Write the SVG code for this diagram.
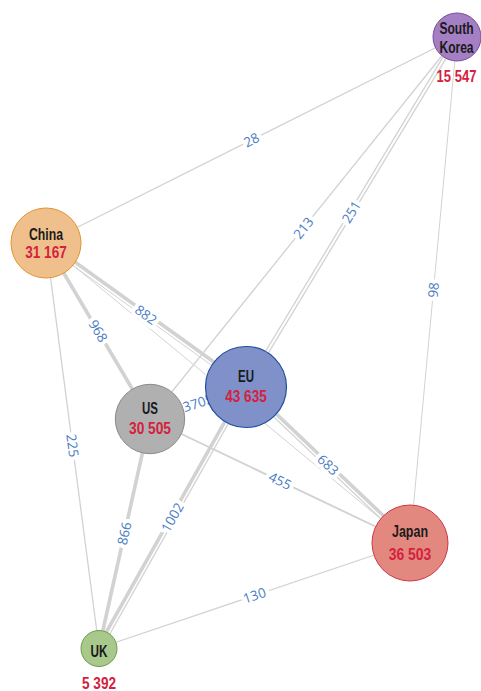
<svg xmlns="http://www.w3.org/2000/svg" width="481" height="691" viewBox="0 0 481 691">
<style>
.e{stroke:#d2d2d2;fill:none;stroke-linecap:butt}
.w1{stroke-width:1}
.w2{stroke-width:1.3}
.w3{stroke-width:1.9}
.w4{stroke-width:3.6}
.lb{font-family:"Open Sans","Noto Sans","DejaVu Sans",sans-serif;font-size:13.5px;fill:#4a7cc4;text-anchor:middle;stroke:#fff;stroke-width:8;stroke-linejoin:round;paint-order:stroke}
.nm{font-family:"Liberation Sans Narrow","Liberation Sans",Arial,sans-serif;font-weight:bold;font-size:16.5px;fill:#1a1a1a;text-anchor:middle}
.vl{font-family:"Liberation Sans Narrow","Liberation Sans",Arial,sans-serif;font-weight:bold;font-size:16.5px;fill:#d4213d;text-anchor:middle}
</style>
<rect width="481" height="691" fill="#fff"/>
<g id="connectors">
  <line class="e w2" x1="46" y1="243" x2="457" y2="37"/>
  <line class="e w4" x1="46.9" y1="241.8" x2="246.9" y2="385.8"/>
  <line class="e w1" x1="44.5" y1="245" x2="244.5" y2="389"/>
  <line class="e w4" x1="46" y1="243" x2="150" y2="419"/>
  <line class="e w2" x1="46" y1="243" x2="99" y2="648"/>
  <line class="e w1" x1="46" y1="243" x2="410" y2="543"/>
  <line class="e w2" x1="457" y1="37" x2="150" y2="419"/>
  <line class="e w2" x1="458.4" y1="37.8" x2="247.4" y2="387.8"/>
  <line class="e w2" x1="455.6" y1="36.2" x2="244.6" y2="386.2"/>
  <line class="e w1" x1="457" y1="37" x2="410" y2="543"/>
  <line class="e w4" x1="150" y1="419" x2="246" y2="387"/>
  <line class="e w3" x1="150" y1="419" x2="410" y2="543"/>
  <line class="e w4" x1="99" y1="648" x2="150" y2="419"/>
  <line class="e w4" x1="97.7" y1="647.3" x2="244.7" y2="386.3"/>
  <line class="e w2" x1="101.2" y1="649.2" x2="248.2" y2="388.2"/>
  <line class="e w4" x1="247" y1="386" x2="411" y2="542"/>
  <line class="e w2" x1="244.3" y1="388.8" x2="408.3" y2="544.8"/>
  <line class="e w2" x1="99" y1="648" x2="410" y2="543"/>
  <text class="lb" transform="translate(251.5 140) rotate(-26.6)" dy=".35em">28</text>
  <text class="lb" transform="translate(146 315) rotate(35.8)" dy=".35em">882</text>
  <text class="lb" transform="translate(98 331) rotate(59.4)" dy=".35em">968</text>
  <text class="lb" transform="translate(72.5 445.5) rotate(82.5)" dy=".35em">225</text>
  <text class="lb" transform="translate(303.5 228) rotate(-51.2)" dy=".35em">213</text>
  <text class="lb" transform="translate(351.5 212) rotate(-58.9)" dy=".35em">251</text>
  <text class="lb" transform="translate(433.5 290) rotate(-84.7)" dy=".35em">98</text>
  <text class="lb" transform="translate(198 403) rotate(-18.4)" dy=".35em">3705</text>
  <text class="lb" transform="translate(280 481) rotate(25.5)" dy=".35em">455</text>
  <text class="lb" transform="translate(124.5 533.5) rotate(-77.4)" dy=".35em">866</text>
  <text class="lb" transform="translate(172.5 517.5) rotate(-60.6)" dy=".35em">1002</text>
  <text class="lb" transform="translate(328 465) rotate(43.6)" dy=".35em">683</text>
  <text class="lb" transform="translate(254.5 595.5) rotate(-18.7)" dy=".35em">130</text>
</g>
<g id="node-southkorea">
  <circle cx="457" cy="37" r="24" fill="#a47fc4" stroke="#7a4ca0" stroke-width="1"/>
  <text class="nm" transform="translate(456.5 34) scale(0.73 1)">South</text>
  <text class="nm" transform="translate(456.5 52.5) scale(0.73 1)">Korea</text>
  <text class="vl" transform="translate(456.5 82) scale(0.79 1)">15 547</text>
</g>
<g id="node-china">
  <circle cx="46" cy="243" r="35" fill="#f0c08c" stroke="#e0942f" stroke-width="1"/>
  <text class="nm" x="46" y="239.5" textLength="34" lengthAdjust="spacingAndGlyphs">China</text>
  <text class="vl" x="46" y="258" textLength="41.5" lengthAdjust="spacingAndGlyphs">31 167</text>
</g>
<g id="node-eu">
  <circle cx="246" cy="387" r="40.5" fill="#8090c8" stroke="#1f4fa0" stroke-width="1.2"/>
  <text class="nm" x="246" y="381.7" textLength="16" lengthAdjust="spacingAndGlyphs">EU</text>
  <text class="vl" x="246" y="402" textLength="41.5" lengthAdjust="spacingAndGlyphs">43 635</text>
</g>
<g id="node-us">
  <circle cx="150" cy="419" r="34.7" fill="#b0b0b0" stroke="#8a8a8a" stroke-width="1"/>
  <text class="nm" x="150" y="414" textLength="16" lengthAdjust="spacingAndGlyphs">US</text>
  <text class="vl" x="150" y="434" textLength="42" lengthAdjust="spacingAndGlyphs">30 505</text>
</g>
<g id="node-japan">
  <circle cx="410" cy="543" r="38" fill="#e2887f" stroke="#d03445" stroke-width="1"/>
  <text class="nm" x="410" y="537.3" textLength="36" lengthAdjust="spacingAndGlyphs">Japan</text>
  <text class="vl" x="410" y="560" textLength="42.5" lengthAdjust="spacingAndGlyphs">36 503</text>
</g>
<g id="node-uk">
  <circle cx="99" cy="648.5" r="18" fill="#a8c88c" stroke="#6aa048" stroke-width="1"/>
  <text class="nm" x="99" y="657" textLength="17" lengthAdjust="spacingAndGlyphs">UK</text>
  <text class="vl" x="99" y="689" textLength="34" lengthAdjust="spacingAndGlyphs">5 392</text>
</g>
</svg>
